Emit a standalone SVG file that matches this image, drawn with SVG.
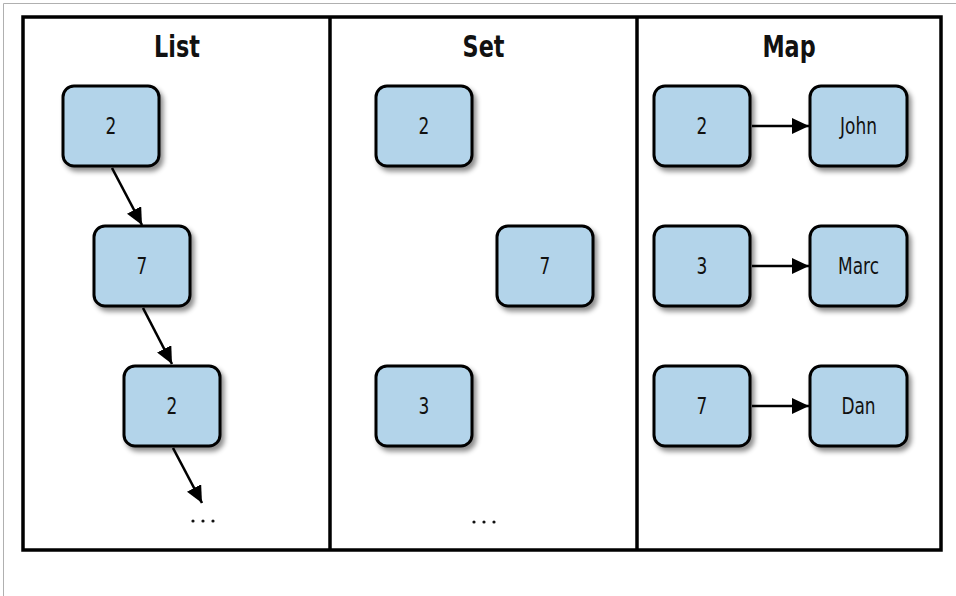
<svg xmlns="http://www.w3.org/2000/svg" width="956" height="596" viewBox="0 0 956 596">
  <style>
    .frame { fill: none; stroke: #000; stroke-width: 3.5; }
    .sheet { fill: none; stroke: #b0b0b0; stroke-width: 1; }
    .node rect { fill: #b3d4ea; stroke: #000; stroke-width: 3; filter: url(#shadow); }
    .node text { font-family: "DejaVu Sans Condensed", "Liberation Sans", sans-serif; font-size: 23px; fill: #111; text-anchor: middle; }
    .title { font-family: "DejaVu Sans Condensed", "Liberation Sans", sans-serif; font-weight: bold; font-size: 31px; fill: #111; text-anchor: middle; }
    .dots { fill: #111; }
    .edge { stroke: #000; stroke-width: 2.6; fill: none; marker-end: url(#arrow); }
  </style>
  <defs>
    <filter id="shadow" x="-20%" y="-20%" width="150%" height="150%">
      <feDropShadow dx="3" dy="4" stdDeviation="2.5" flood-color="#000" flood-opacity="0.45"/>
    </filter>
    <marker id="arrow" viewBox="0 0 17 16" refX="17" refY="8" markerWidth="17" markerHeight="16" markerUnits="userSpaceOnUse" orient="auto">
      <path d="M0,0 L17,8 L0,16 Z" fill="#000"/>
    </marker>
  </defs>

  <rect width="956" height="596" fill="#fff"/>
  <!-- page edge -->
  <path class="sheet" d="M3.5,596 V3.5 H956"/>

  <!-- outer frame and column dividers -->
  <rect class="frame" x="23" y="17" width="918" height="533"/>
  <line class="frame" x1="330" y1="17" x2="330" y2="550"/>
  <line class="frame" x1="637" y1="17" x2="637" y2="550"/>

  <!-- column titles (condensed horizontally) -->
  <text class="title" transform="translate(177,57) scale(0.8,1)">List</text>
  <text class="title" transform="translate(483.5,57) scale(0.8,1)">Set</text>
  <text class="title" transform="translate(789,57) scale(0.8,1)">Map</text>

  <!-- List -->
  <g id="list-2a" class="node"><rect x="63" y="86" width="96" height="80" rx="11"/><text transform="translate(111,134) scale(0.82,1)">2</text></g>
  <g id="list-7" class="node"><rect x="94" y="226" width="96" height="80" rx="11"/><text transform="translate(142,274) scale(0.82,1)">7</text></g>
  <g id="list-2b" class="node"><rect x="124" y="366" width="96" height="80" rx="11"/><text transform="translate(172,414) scale(0.82,1)">2</text></g>
  <g id="list-more">
    <circle class="dots" cx="193" cy="521" r="1.6"/><circle class="dots" cx="203" cy="521" r="1.6"/><circle class="dots" cx="213" cy="521" r="1.6"/>
  </g>

  <!-- Set -->
  <g id="set-2" class="node"><rect x="376" y="86" width="96" height="80" rx="11"/><text transform="translate(424,134) scale(0.82,1)">2</text></g>
  <g id="set-7" class="node"><rect x="497" y="226" width="96" height="80" rx="11"/><text transform="translate(545,274) scale(0.82,1)">7</text></g>
  <g id="set-3" class="node"><rect x="376" y="366" width="96" height="80" rx="11"/><text transform="translate(424,414) scale(0.82,1)">3</text></g>
  <g id="set-more">
    <circle class="dots" cx="474" cy="522" r="1.6"/><circle class="dots" cx="484" cy="522" r="1.6"/><circle class="dots" cx="494" cy="522" r="1.6"/>
  </g>

  <!-- Map keys -->
  <g id="map-k2" class="node"><rect x="654" y="86" width="96" height="80" rx="11"/><text transform="translate(702,134) scale(0.82,1)">2</text></g>
  <g id="map-k3" class="node"><rect x="654" y="226" width="96" height="80" rx="11"/><text transform="translate(702,274) scale(0.82,1)">3</text></g>
  <g id="map-k7" class="node"><rect x="654" y="366" width="96" height="80" rx="11"/><text transform="translate(702,414) scale(0.82,1)">7</text></g>
  <!-- Map values -->
  <g id="map-john" class="node"><rect x="810" y="86" width="97" height="80" rx="11"/><text transform="translate(858.5,134) scale(0.82,1)">John</text></g>
  <g id="map-marc" class="node"><rect x="810" y="226" width="97" height="80" rx="11"/><text transform="translate(858.5,274) scale(0.82,1)">Marc</text></g>
  <g id="map-dan" class="node"><rect x="810" y="366" width="97" height="80" rx="11"/><text transform="translate(858.5,414) scale(0.82,1)">Dan</text></g>

  <!-- connectors -->
  <g id="connectors">
    <line class="edge" x1="112" y1="168" x2="142" y2="225"/>
    <line class="edge" x1="143" y1="308" x2="172" y2="364"/>
    <line class="edge" x1="173" y1="448" x2="202" y2="503"/>
    <line class="edge" x1="752" y1="126" x2="809" y2="126"/>
    <line class="edge" x1="752" y1="266" x2="809" y2="266"/>
    <line class="edge" x1="752" y1="406" x2="809" y2="406"/>
  </g>
</svg>
